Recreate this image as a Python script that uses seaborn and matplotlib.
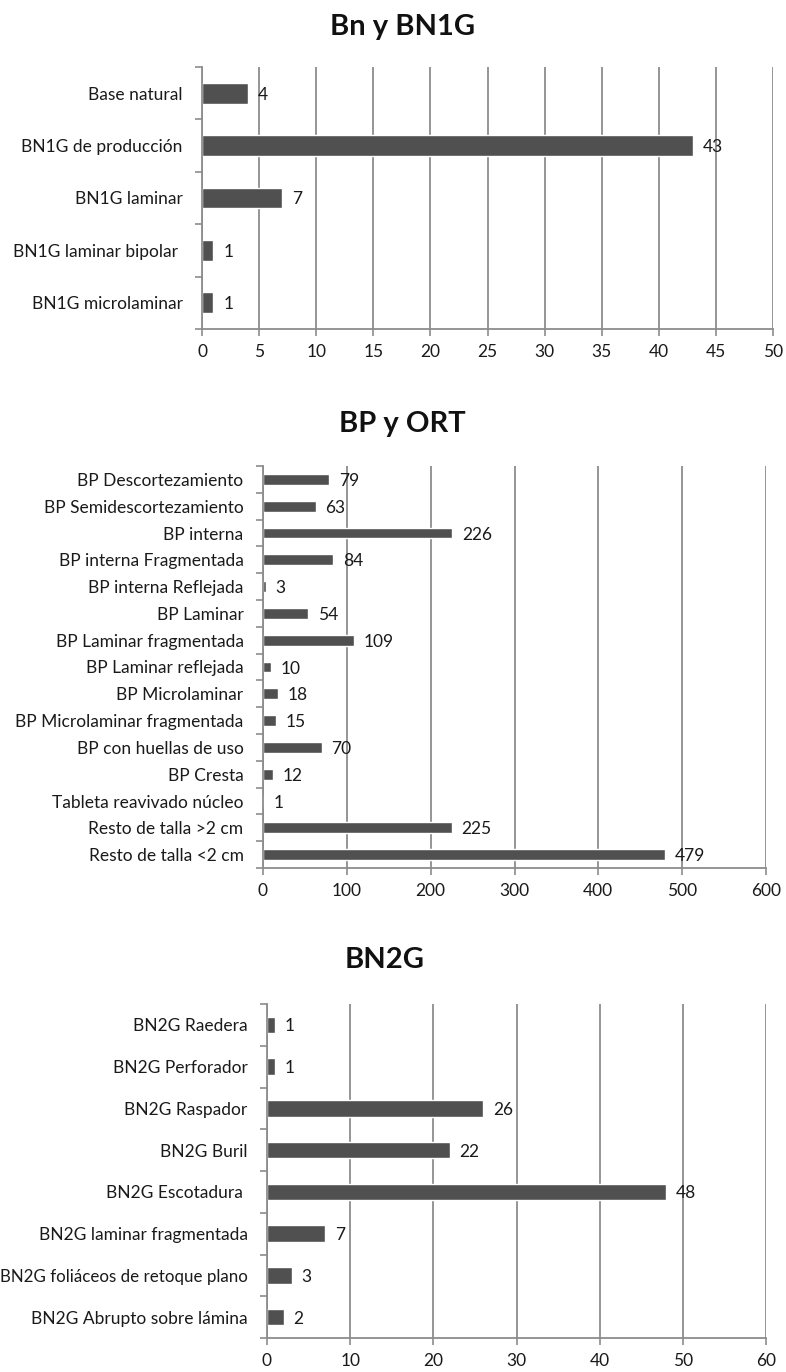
import matplotlib
matplotlib.use("Agg")
import matplotlib.pyplot as plt
import seaborn as sns
import pandas as pd
import numpy as np

# data
bn1g_labels = ["Base natural", "BN1G de producción", "BN1G laminar",
               "BN1G laminar bipolar ", "BN1G microlaminar"]
bn1g_values = [4, 43, 7, 1, 1]

bp_labels = ["BP Descortezamiento", "BP Semidescortezamiento", "BP interna",
             "BP interna Fragmentada", "BP interna Reflejada", "BP Laminar",
             "BP Laminar fragmentada", "BP Laminar reflejada", "BP Microlaminar",
             "BP Microlaminar fragmentada", "BP con huellas de uso", "BP Cresta",
             "Tableta reavivado núcleo", "Resto de talla >2 cm", "Resto de talla <2 cm"]
bp_values = [79, 63, 226, 84, 3, 54, 109, 10, 18, 15, 70, 12, 1, 225, 479]

bn2g_labels = ["BN2G Raedera", "BN2G Perforador", "BN2G Raspador", "BN2G Buril",
               "BN2G Escotadura ", "BN2G laminar fragmentada",
               "BN2G foliáceos de retoque plano", "BN2G Abrupto sobre lámina"]
bn2g_values = [1, 1, 26, 22, 48, 7, 3, 2]

sns.set_theme(style="white")
plt.rcParams['font.family'] = ['Lato', 'DejaVu Sans']

W, H = 786, 1372
fig = plt.figure(figsize=(W / 100, H / 100), dpi=100)

BAR = "#505050"
GRID = "#8c8c8c"
TXT = "#1a1a1a"
FS = 12.5


def px_axes(left, right, top, bottom):
    return fig.add_axes([left / W, 1 - bottom / H, (right - left) / W, (bottom - top) / H])


def draw(ax, labels, values, xmax, step):
    df = pd.DataFrame({"cat": labels, "val": values})
    sns.barplot(data=df, y="cat", x="val", color=BAR, width=0.4,
                saturation=1, ax=ax, orient="h")
    ax.set_xlim(0, xmax)
    ax.set_ylim(len(labels) - 0.5, -0.5)
    ax.set_xticks(np.arange(0, xmax + step, step))
    ax.set_xlabel("")
    ax.set_ylabel("")
    ax.grid(axis="x", color=GRID, linewidth=1.3)
    ax.grid(axis="y", visible=False)
    ax.set_axisbelow(True)
    for s in ["top", "right"]:
        ax.spines[s].set_visible(False)
    for s in ["left", "bottom"]:
        ax.spines[s].set_color(GRID)
        ax.spines[s].set_linewidth(1.3)
    ax.tick_params(axis="x", bottom=True, length=5, width=1.2, color=GRID,
                   labelsize=FS, labelcolor=TXT, pad=6)
    ax.tick_params(axis="y", left=False, labelsize=FS, labelcolor=TXT, pad=8)
    ax.set_yticks(np.arange(-0.5, len(labels), 1), minor=True)
    ax.tick_params(axis="y", which="minor", left=True, length=5, width=1.2, color=GRID)
    texts = ax.bar_label(ax.containers[0], padding=7, fontsize=FS, color=TXT)
    for t in texts:
        t.set_verticalalignment("center_baseline")
    # keep the longest label inside the figure
    for lab in ax.get_yticklabels():
        if len(lab.get_text()) > 28:
            lab.set_fontsize(12.2)


ax1 = px_axes(202, 773, 67, 329)
draw(ax1, bn1g_labels, bn1g_values, 50, 5)
fig.text(403 / W, 1 - 27 / H, "Bn y BN1G", ha="center", va="center",
         fontsize=21, fontweight="bold", color="#111111")

ax2 = px_axes(263, 766, 466, 868)
draw(ax2, bp_labels, bp_values, 600, 100)
fig.text(402 / W, 1 - 424 / H, "BP y ORT", ha="center", va="center",
         fontsize=21, fontweight="bold", color="#111111")

ax3 = px_axes(267, 766, 1004, 1338)
draw(ax3, bn2g_labels, bn2g_values, 60, 10)
fig.text(385 / W, 1 - 960 / H, "BN2G", ha="center", va="center",
         fontsize=21, fontweight="bold", color="#111111")

fig.savefig("out.png", dpi=100, facecolor="white")
